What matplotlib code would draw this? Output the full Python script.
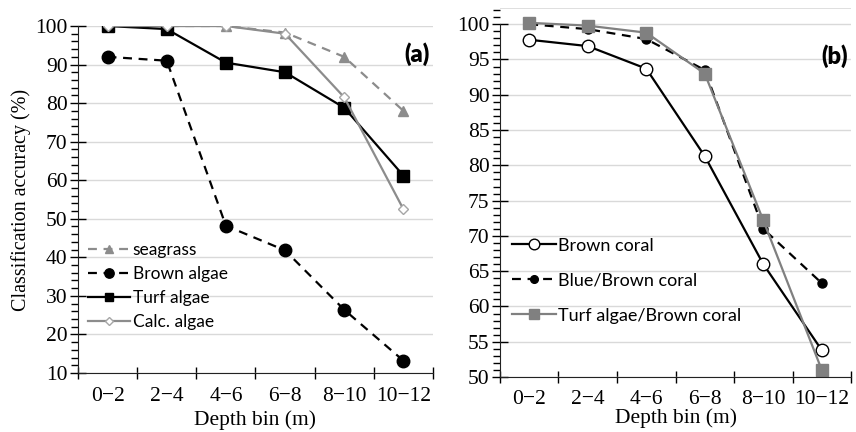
import numpy as np
import matplotlib
matplotlib.use('Agg')
import matplotlib.pyplot as plt
from matplotlib.ticker import MultipleLocator

bins = ['0\u22122', '2\u22124', '4\u22126', '6\u22128', '8\u221210', '10\u221212']

# panel (a)
seagrass = [100, 100, 100, 98.3, 92, 78]
brown_algae = [92, 91, 48.2, 41.8, 26.4, 13.2]
turf_algae = [100, 99.2, 90.5, 88, 78.8, 61.2]
calc_algae = [100, 100, 100, 98, 81.5, 52.5]

# panel (b)
brown_coral = [97.8, 96.9, 93.7, 81.3, 66, 53.8]
blue_brown_coral = [100, 99.3, 97.9, 93.5, 71, 63.3]
turf_brown_coral = [100.2, 99.8, 98.8, 93, 72.2, 51]

serif = 'Liberation Serif'
sans = 'Lato'

fig = plt.figure(figsize=(8.56, 4.32), dpi=100)
axa = fig.add_axes([0.0911, 0.1366, 0.4147, 0.8032])
axb = fig.add_axes([0.5841, 0.1273, 0.4101, 0.8542])

x = np.arange(len(bins))

def style(ax, ymin, ymax, major, minor, xpad, lpad):
    ax.set_xlim(-0.5, len(bins) - 0.5)
    ax.set_ylim(ymin, ymax)
    ax.yaxis.set_major_locator(MultipleLocator(major))
    ax.yaxis.set_minor_locator(MultipleLocator(minor))
    ax.set_xticks(x)
    ax.set_xticklabels(bins, fontfamily=serif, fontsize=15.5)
    ax.set_xticks(np.arange(len(bins) + 1) - 0.5, minor=True)
    ax.tick_params(axis='x', which='major', length=0, pad=xpad)
    ax.tick_params(axis='x', which='minor', direction='inout', length=9, width=1)
    ax.tick_params(axis='y', which='major', direction='inout', length=11, width=1, pad=2)
    ax.tick_params(axis='y', which='minor', direction='out', length=5, width=1)
    for lab in ax.get_yticklabels():
        lab.set_fontfamily(serif)
        lab.set_fontsize(15.5)
    ax.grid(axis='y', which='major', color='#d9d9d9', linewidth=1)
    ax.set_axisbelow(True)
    for s in ['top', 'right']:
        ax.spines[s].set_visible(False)
    ax.spines['left'].set_color('#222222')
    ax.spines['bottom'].set_color('#222222')
    ax.set_xlabel('Depth bin (m)', fontfamily=serif, fontsize=15.5, labelpad=lpad)

# ---- panel (a)
axa.plot(x, seagrass, color='#8c8c8c', ls=(0, (4, 3)), lw=1.6, marker='^', ms=7, label='seagrass')
axa.plot(x, brown_algae, color='black', ls=(0, (4, 3)), lw=1.6, marker='o', ms=9, label='Brown algae')
axa.plot(x, turf_algae, color='black', lw=1.6, marker='s', ms=8, label='Turf algae')
axa.plot(x, calc_algae, color='#8c8c8c', lw=1.6, marker='D', ms=5, mfc='white', mec='#a6a6a6',
         label='Calc. algae')
style(axa, 10, 100, 10, 2, 10, 3)
axa.set_ylabel('Classification accuracy (%)', fontfamily=serif, fontsize=14.5, labelpad=3)
axa.text(0.99, 0.92, '(a)', transform=axa.transAxes, ha='right', va='center',
         fontfamily=sans, fontweight='heavy', fontsize=17)
axa.legend(loc='lower left', bbox_to_anchor=(0.01, 0.105), frameon=False,
           prop={'family': sans, 'size': 12.5}, handlelength=2.4, handletextpad=0.15,
           labelspacing=0.45, borderaxespad=0, markerscale=0.75)

# ---- panel (b)
axb.plot(x, brown_coral, color='black', lw=1.6, marker='o', ms=9, mfc='white', mec='black',
         label='Brown coral')
axb.plot(x, blue_brown_coral, color='black', ls=(0, (4, 3)), lw=1.6, marker='o', ms=6.5,
         label='Blue/Brown coral')
axb.plot(x, turf_brown_coral, color='#808080', lw=1.6, marker='s', ms=8, label='Turf algae/Brown coral')
style(axb, 50, 102.3, 5, 1, 9, 0)
axb.spines['left'].set_bounds(50, 100)
axb.axhline(102.3, color='#d9d9d9', lw=1.2)
axb.text(0.99, 0.87, '(b)', transform=axb.transAxes, ha='right', va='center',
         fontfamily=sans, fontweight='heavy', fontsize=17)
axb.legend(loc='lower left', bbox_to_anchor=(0.015, 0.125), frameon=False,
           prop={'family': sans, 'size': 13}, handlelength=2.4, handletextpad=0.1,
           labelspacing=1.05, borderaxespad=0, markerscale=0.85)

fig.savefig('out.png', dpi=100)
